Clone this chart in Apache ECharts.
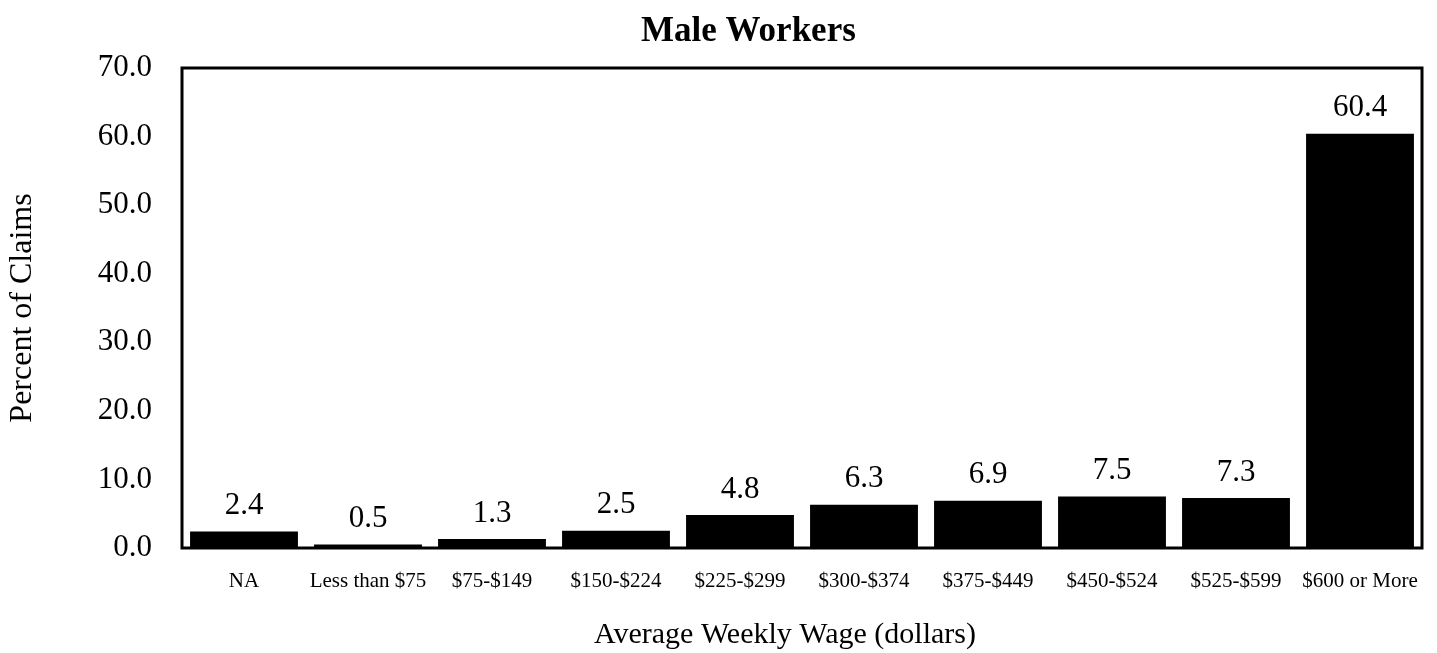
<!DOCTYPE html>
<html>
<head>
<meta charset="utf-8">
<script src="https://cdn.jsdelivr.net/npm/echarts@6/dist/echarts.min.js"></script>
<style>
  html, body { margin: 0; padding: 0; background: #fff; }
  #chart { width: 1437px; height: 653px; }
</style>
</head>
<body>
<div id="chart"></div>
<script>
const categories = ['NA', 'Less than $75', '$75-$149', '$150-$224', '$225-$299', '$300-$374', '$375-$449', '$450-$524', '$525-$599', '$600 or More']
const percentValues = [2.4, 0.5, 1.3, 2.5, 4.8, 6.3, 6.9, 7.5, 7.3, 60.4]
const yTicks = { min: 0, max: 70, interval: 10 }

const serif = '"Liberation Serif", "DejaVu Serif", serif'
const chart = echarts.init(document.getElementById('chart'))
chart.setOption({
  animation: false,
  title: {
    text: 'Male Workers',
    left: 636,
    top: 9,
    textStyle: { fontFamily: serif, fontSize: 35, fontWeight: 'bold', color: '#000' }
  },
  grid: {
    left: 182,
    right: 15,
    top: 68,
    bottom: 105,
    outerBoundsMode: 'none',
    show: true,
    borderColor: '#000',
    borderWidth: 3
  },
  xAxis: {
    type: 'category',
    data: categories,
    name: 'Average Weekly Wage (dollars)',
    nameLocation: 'middle',
    nameGap: 72,
    nameTextStyle: { fontFamily: serif, fontSize: 30, color: '#000', padding: [0, 34, 0, 0] },
    axisLine: { show: false },
    axisTick: { show: false },
    axisLabel: { fontFamily: serif, fontSize: 21, color: '#000', margin: 23, interval: 0 }
  },
  yAxis: {
    type: 'value',
    min: yTicks.min,
    max: yTicks.max,
    interval: yTicks.interval,
    name: 'Percent of Claims',
    nameLocation: 'middle',
    nameGap: 143,
    nameTextStyle: { fontFamily: serif, fontSize: 32, color: '#000' },
    axisLine: { show: false },
    axisTick: { show: false },
    splitLine: { show: false },
    axisLabel: {
      fontFamily: serif, fontSize: 31, color: '#000', margin: 30,
      formatter: v => v.toFixed(1)
    }
  },
  series: [{
    type: 'bar',
    data: percentValues,
    barCategoryGap: '13%',
    itemStyle: { color: '#000' },
    label: {
      show: true,
      position: 'top',
      distance: 10,
      fontFamily: serif,
      fontSize: 31,
      color: '#000',
      formatter: p => p.value.toFixed(1)
    }
  }]
})
</script>
</body>
</html>
